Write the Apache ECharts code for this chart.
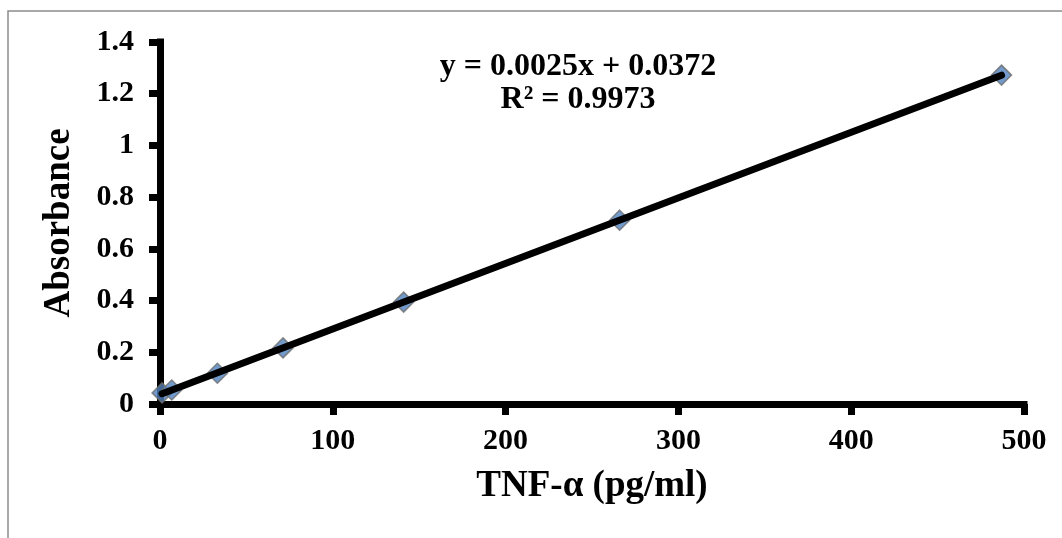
<!DOCTYPE html>
<html>
<head>
<meta charset="utf-8">
<script src="https://cdn.jsdelivr.net/npm/echarts@6/dist/echarts.min.js"></script>
<style>html,body{margin:0;padding:0;background:#fff}#c{width:1062px;height:538px}</style>
</head>
<body>
<div id="c"></div>
<script>
// Data
const concentrations = [1.2, 6.8, 33.2, 71.2, 141, 266, 487];
const absorbances = [0.043, 0.054, 0.119, 0.217, 0.394, 0.711, 1.272];
const equationLines = ['y = 0.0025x + 0.0372', 'R² = 0.9973'];
const xAxisTitle = 'TNF-α (pg/ml)';
const yAxisTitle = 'Absorbance';

const FONT = "'Liberation Serif', 'Times New Roman', serif";
const points = concentrations.map((x, i) => [x, absorbances[i]]);

// Least-squares linear trendline fitted to the data (as the spreadsheet does)
const n = concentrations.length;
const mx = concentrations.reduce((a, b) => a + b, 0) / n;
const my = absorbances.reduce((a, b) => a + b, 0) / n;
let sxy = 0, sxx = 0;
for (let i = 0; i < n; i++) { sxy += (concentrations[i] - mx) * (absorbances[i] - my); sxx += (concentrations[i] - mx) ** 2; }
const slope = sxy / sxx, intercept = my - slope * mx;
const xMin = Math.min(...concentrations), xMax = Math.max(...concentrations);
const trend = [[xMin, slope * xMin + intercept], [xMax, slope * xMax + intercept]];

const chart = echarts.init(document.getElementById('c'));
chart.setOption({
  animation: false,
  backgroundColor: '#fff',
  grid: { left: 160, right: 38, top: 42, bottom: 134 },
  graphic: [
    { type: 'rect', shape: { x: 8, y: 11, width: 1200, height: 700 }, style: { fill: 'none', stroke: '#8c8c8c', lineWidth: 1.5 }, silent: true, z: -10 }
  ],
  title: {
    text: equationLines.join('\n'),
    left: 573, top: 45, textAlign: 'center',
    textStyle: { fontFamily: FONT, fontWeight: 'bold', fontSize: 32, color: '#000', lineHeight: 33 }
  },
  xAxis: {
    type: 'value', min: 0, max: 500, interval: 100,
    name: xAxisTitle, nameLocation: 'middle', nameGap: 64,
    nameTextStyle: { fontFamily: FONT, fontWeight: 'bold', fontSize: 37, color: '#000' },
    axisLine: { show: true, onZero: false, lineStyle: { color: '#000', width: 7, cap: 'square' } },
    axisTick: { show: true, length: 11, lineStyle: { color: '#000', width: 7 } },
    axisLabel: { fontFamily: FONT, fontWeight: 'bold', fontSize: 30, color: '#000', margin: 22 },
    splitLine: { show: false }
  },
  yAxis: {
    type: 'value', min: 0, max: 1.4, interval: 0.2,
    name: yAxisTitle, nameLocation: 'middle', nameGap: 82, nameRotate: 90,
    nameTextStyle: { fontFamily: FONT, fontWeight: 'bold', fontSize: 37, color: '#000' },
    axisLine: { show: true, onZero: false, lineStyle: { color: '#000', width: 7, cap: 'square' } },
    axisTick: { show: true, length: 11, lineStyle: { color: '#000', width: 7 } },
    axisLabel: { fontFamily: FONT, fontWeight: 'bold', fontSize: 30, color: '#000', margin: 26,
      formatter: v => String(+v.toFixed(1)) },
    splitLine: { show: false }
  },
  series: [
    {
      type: 'scatter', data: points, symbol: 'diamond', symbolSize: 20,
      itemStyle: { color: '#4F81BD', borderColor: '#6e6e6e', borderWidth: 1.5 }, z: 2
    },
    {
      type: 'line', data: trend, symbol: 'none',
      lineStyle: { color: '#000', width: 7, cap: 'round' }, z: 3
    }
  ]
});
</script>
</body>
</html>
